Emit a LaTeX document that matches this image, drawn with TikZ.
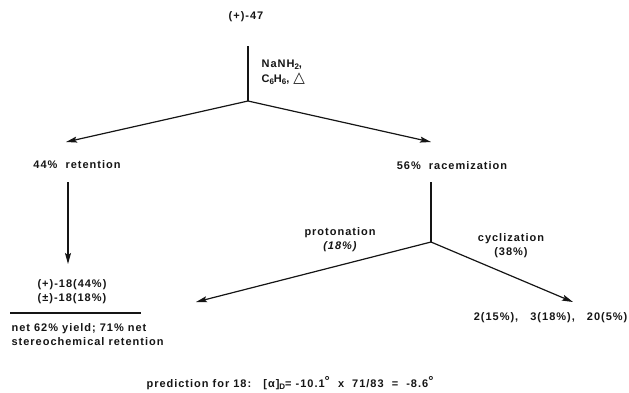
\documentclass[tikz,border=0pt]{standalone}
\usepackage{fontspec}
\setmainfont{Liberation Sans}[LetterSpace=9]
\newfontfamily\symfont{DejaVu Sans}
\usetikzlibrary{arrows.meta, positioning}
\definecolor{cink}{HTML}{151515}
\newcommand{\chsub}[1]{\raisebox{-0.4ex}{\footnotesize #1}}
\newcommand{\degsign}{\raisebox{0.3ex}{\fontsize{13}{13}\selectfont °}}
\tikzset{
  every picture/.style={font=\bfseries, line width=1.2pt, draw=cink},
  lbl/.style={text=cink, inner sep=1pt, font=\bfseries\fontsize{11}{14}\selectfont},
  note/.style={lbl, align=center},
  arrow/.style={-{Stealth[length=11pt, width=6pt, inset=2pt]}, draw=cink, line width=1.2pt},
  stem/.style={draw=cink, line width=1.2pt},
}

\begin{document}
\begin{tikzpicture}[x=1pt, y=-1pt]
  \useasboundingbox (0,0) rectangle (629,392);
  % starting compound and reagents
  \node[lbl] (start) at (246, 17) {(+)-47};
  \coordinate (top) at (248, 46);
  \coordinate (split) at (248, 101);
  \node[lbl, anchor=west, align=left] (reag) at (260, 72) {NaNH\chsub{2},\\[1pt]C\chsub{6}H\chsub{6},\ {\symfont\fontsize{15}{14}\selectfont △}};
  \draw[stem] (top) -- (split);
  % first branching
  \node[lbl] (ret) at (77, 165) {44\%\ \ retention};
  \node[lbl] (rac) at (452, 166) {56\%\ \ racemization};
  \coordinate (retend) at (66, 142);
  \coordinate (racend) at (431, 142);
  \draw[arrow] (split) -- (retend);
  \draw[arrow] (split) -- (racend);
  % retention pathway
  \node[note] (prod) at (72, 292) {(+)-18(44\%)\\(±)-18(18\%)};
  \coordinate (retbot) at (68, 182);
  \coordinate (prodtop) at (68, 264);
  \draw[arrow] (retbot) -- (prodtop);
  \coordinate (bara) at (10, 313);
  \coordinate (barb) at (141, 313);
  \draw[stem] (bara) -- (barb);
  \node[lbl, anchor=west, align=left] (net) at (10, 335) {net 62\% yield; 71\% net\\stereochemical retention};
  % racemization pathway
  \coordinate (racbot) at (431, 182);
  \coordinate (racsplit) at (431, 242);
  \draw[stem] (racbot) -- (racsplit);
  \coordinate (protend) at (196, 302);
  \coordinate (cycend) at (573, 302);
  \draw[arrow] (racsplit) -- (protend);
  \draw[arrow] (racsplit) -- (cycend);
  \node[note] (prot) at (340, 240) {protonation\\{\itshape (18\%)}};
  \node[note] (cyc) at (511, 246) {cyclization\\(38\%)};
  \node[lbl, anchor=east] (cycprod) at (629, 318) {2(15\%),\ \ \ 3(18\%),\ \ \ 20(5\%)};
  % prediction
  \node[lbl] (pred) at (290, 383) {prediction for 18:\ \ \ [α]\chsub{D}= -10.1\degsign\ \ x\ \ 71/83\ \ =\ \ -8.6\degsign};
\end{tikzpicture}
\end{document}
